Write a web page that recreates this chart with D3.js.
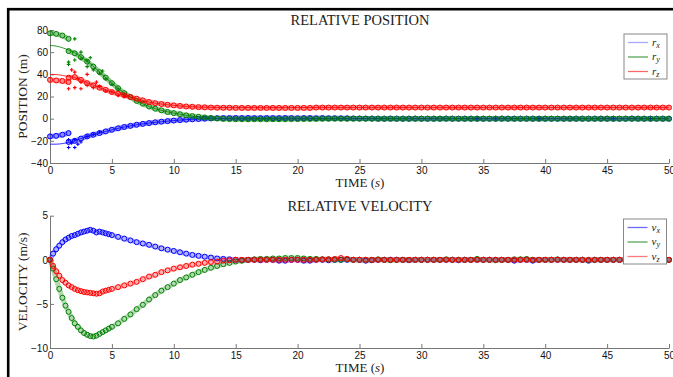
<!DOCTYPE html>
<html>
<head>
<meta charset="utf-8">
<script src="https://cdn.jsdelivr.net/npm/d3@7"></script>
<style>
  body { margin: 0; background: #fff; }
  svg { display: block; }
  .axis text { font-family: "Liberation Sans", Arial, sans-serif; font-size: 10px; fill: #111; }
  .axis path, .axis line { stroke: #777; }
  .lbl { font-family: "Liberation Serif", "DejaVu Serif", serif; fill: #222; }
</style>
</head>
<body>
<div id="chart"></div>
<script>
// ---- position data (m) ----
const posTime = [0,0.5,1,1.5,1.5,2,2.5,3,3.5,4,4.5,5,5.5,6,6.5,7,7.5,8,8.5,9,9.5,10,10.5,11,11.5,12,12.5,13,13.5,14,14.5,
  15,15.5,16,16.5,17,17.5,18,18.5,19,19.5,20,20.5,21,21.5,22,22.5,23,23.5,24,24.5,25,25.5,26,26.5,27,27.5,28,28.5,29,29.5,
  30,30.5,31,31.5,32,32.5,33,33.5,34,34.5,35,35.5,36,36.5,37,37.5,38,38.5,39,39.5,40,40.5,41,41.5,42,42.5,43,43.5,44,44.5,
  45,45.5,46,46.5,47,47.5,48,48.5,49,49.5,50];
const rx = [-16,-15.5,-14.5,-13,-21,
  -20,-18,-16,-14.5,-13,-11.5,-10,-8.7,-7.5,-6.5,-5.5,-4.7,-4,-3.3,-2.7,-2.2,-1.7,-1.3,-0.9,-0.6,-0.3,0,0.2,0.4,0.5,0.5,
  0.6,0.5,0.6,0.5,0.5,0.6,0.5,0.5,0.6,0.5,0.4,0.5,0.5,0.4,0.5,0.4,0.4,0.3,0.3,0.2,0.2,
  0.1,0.1,0,0,0.1,0,0,0,0.1,0,0,0,0,0.1,0,0,0,0,0,0,0,0,0.1,0,0,
  0,0,0,0,0,0,0,0,0,0,0,0,0,0,0,0,0,0,0.1,0,0,0,0,0,0];
const ry = [77,76.5,75,72,61,
  59,55.5,51.5,47,42,37,32,27.5,23,19.5,16,13.5,11,9,7.5,6,5,4,3,2.3,1.7,1.1,0.6,0.2,-0.2,-0.4,
  -0.5,-0.5,-0.6,-0.5,-0.5,-0.6,-0.5,-0.5,-0.5,-0.4,-0.4,-0.3,
  -0.2,-0.2,-0.1,-0.1,0,0,-0.1,0,0,0,0,0,0,0,0,0,0,0,0,
  0,0,0,0,0,0,0,0,0,0,0,0,0,0,0,0,0,0,0,0,0,0,0,0,0,
  0,0,0,0,0,0,0,0,0,0,0,0,0,0,0,0,0,0,0,0,0,0,0,0];
const rz = [35,34.5,34,33,37,
  37.5,35,32,30,28,26,24,22.5,21,19.5,18,16.5,15,14,13.2,12.5,12,11.5,11,10.7,10.4,10.2,10,9.9,9.8,9.8,
  9.7,9.7,9.7,9.7,9.7,9.7,9.7,9.7,9.7,9.7,9.7,9.7,9.7,
  10,10,10,10,10,10,10,10,10,10,10,10,10,10,10,10,10,10,10,10,
  10,10,10,10,10,10,10,10,10,10,10,10,10,10,10,10,10,10,10,10,
  10,10,10,10,10,10,10,10,10,10,10,10,10,10,10,10,10,10];

// reference (true) trajectories, thin lines
const truthTime = [0,0.5,1,1.5,2,2.5,3,4,5,6,7,8,10,12,15,20,30,40,50];
const rxTrue = [-23,-23,-22.5,-21.5,-20,-18,-16.2,-13,-10,-7.5,-5.5,-4,-1.7,-0.3,0.3,0.3,0,0,0];
const ryTrue = [66,65.5,64,62,59.5,56,52,42,32,23,16,11,5,1.7,-0.3,-0.3,0,0,0];
const rzTrue = [40,39.8,39,38,37,35,32.5,28,24,21,18,15,12,10.4,10,10,10,10,10];

// raw measurements (+)
const measXTime = [1.5,1.5,1.75,2,2,2.25,2.5,3,3.5,4,34.5,36,39.5,45.5,48.5];
const measX = [-26,-19,-22,-26,-19,-23,-21,-16,-14,-12,0,0,0,0,0];
const measYTime = [1.5,1.5,2,2,2.5,2.5,3,3,3.25,3.5,4,4.25,4.5,5,5.5,6];
const measY = [51,49,72,53,54,60,52,47,55,44,41,43,36,31,27,22];
const measZTime = [1.5,1.75,2,2,2.25,2.5,2.5,3,3,3.5,3.75,4,4.5,5,5.5,6];
const measZ = [27,44,42,28,36,33,27,40,30,28,33,29,25,24,21,20];

// ---- velocity data (m/s) ----
const velTime = [0,0.25,0.5,0.75,1,1.25,1.5,1.75,2,2.25,2.5,2.75,3,3.25,3.5,3.75,4,4.25,4.5,4.75,5,
  5.5,6,6.5,7,7.5,8,8.5,9,9.5,10,10.5,11,11.5,12,12.5,13,13.5,14,14.5,15,
  15.5,16,16.5,17,17.5,18,18.5,19,19.5,20,20.5,21,21.5,22,22.5,23,23.5,24,24.5,25,
  25.5,26,26.5,27,27.5,28,28.5,29,29.5,30,30.5,31,31.5,32,32.5,33,33.5,34,34.5,35,
  35.5,36,36.5,37,37.5,38,38.5,39,39.5,40,40.5,41,41.5,42,42.5,43,43.5,44,44.5,45,
  45.5,46,46.5,47,47.5,48,48.5,49,49.5,50];
const vx = [0,0.7,1.2,1.6,2.0,2.3,2.5,2.7,2.8,2.95,3.1,3.2,3.3,3.4,3.3,3.1,3.2,3.1,3.0,2.9,2.8,
  2.6,2.4,2.2,2.0,1.85,1.7,1.5,1.3,1.15,1.0,0.85,0.7,0.55,0.45,0.35,0.25,0.15,0.1,0.05,0,
  -0.05,0,0,-0.05,0,0,-0.1,-0.1,0,0,-0.1,-0.1,0,0,-0.05,0,0,0,0,0,
  -0.1,-0.05,0,0,0,0,0,-0.05,0,0,0,0,0,0,0,-0.05,0,0,0,0,
  0,0,0,0,-0.1,0,0,-0.1,0,0,0,0,0,0,0,0,-0.1,0,0,0,
  0,0,0,0,0,0,0,0,0,0];
const vy = [0,-1.0,-2.2,-3.3,-4.3,-5.2,-5.9,-6.6,-7.2,-7.6,-8.0,-8.3,-8.5,-8.65,-8.7,-8.6,-8.4,-8.2,-8.0,-7.8,-7.6,
  -7.2,-6.7,-6.2,-5.6,-5.1,-4.5,-4.0,-3.5,-3.1,-2.7,-2.3,-2.0,-1.7,-1.4,-1.15,-0.9,-0.7,-0.5,-0.35,-0.2,
  -0.1,0,0.05,0.1,0.1,0.15,0.15,0.2,0.2,0.2,0.15,0.1,0.1,0.05,0.05,0,0,0.05,0,0,
  0,0,0.05,0,-0.05,0,0,0,0,0,0,0,0,0.05,0,0,0,0,0.1,0,
  0,-0.05,0,0,0.05,0.05,0.1,0,0,0,0,0.05,0,0,0,0,-0.05,0,0,0,
  0,0,0,0,0,0,0,0,0,0];
const vz = [0,-0.7,-1.3,-1.8,-2.3,-2.6,-2.9,-3.1,-3.3,-3.45,-3.55,-3.65,-3.7,-3.75,-3.8,-3.85,-3.8,-3.6,-3.5,-3.4,-3.3,
  -3.1,-2.9,-2.7,-2.5,-2.2,-1.9,-1.7,-1.4,-1.2,-1.0,-0.85,-0.7,-0.55,-0.45,-0.35,-0.25,-0.2,-0.1,-0.05,0,
  0,0,0,0,0,0,0,0,0,0,0,0,0,0.05,0.05,0.1,0.2,0.1,0,0,
  0,0,0,0,0,0,0,0,0,0,0,0,0,0,0,0,0,0,0,0,
  0,0,0,0,0,0,0,0,0,0,0,0,0,0,0,0,0,0,0,0,
  0,0,0,0,0,0,0,0,0,0];

const xTicks = [0,5,10,15,20,25,30,35,40,45,50];
const posTicks = [-40,-20,0,20,40,60,80];
const velTicks = [-10,-5,0,5];

const BLUE = "#0000ff", GREEN = "#008000", RED = "#ff0000";

const W = 673, H = 377;
const svg = d3.select("#chart").append("svg").attr("width", W).attr("height", H);

// figure frame (runs off the right and bottom edges)
svg.append("rect")
  .attr("x", 8.2).attr("y", 9.2)
  .attr("width", 720).attr("height", 420)
  .attr("fill", "none").attr("stroke", "#000").attr("stroke-width", 2.6);

const x = d3.scaleLinear().domain([0, 50]).range([50, 669]);
const yPos = d3.scaleLinear().domain([-40, 80]).range([163, 30]);
const yVel = d3.scaleLinear().domain([-10, 5]).range([348, 215.7]);

function zipPts(ts, vs) {
  return ts.map((t, i) => ({ t: t, v: vs[i] })).filter(d => d.v !== undefined);
}

function drawAxes(y, ticks, top, bottom, title, ylabel) {
  svg.append("g")
    .attr("class", "axis")
    .attr("transform", `translate(0, ${bottom})`)
    .call(d3.axisBottom(x).tickValues(xTicks).tickSizeInner(-4).tickSizeOuter(0).tickPadding(4));
  svg.append("g")
    .attr("class", "axis")
    .attr("transform", `translate(${x(0)}, 0)`)
    .call(d3.axisLeft(y).tickValues(ticks).tickSizeInner(-4).tickSizeOuter(0).tickPadding(2));
  svg.append("text").attr("class", "lbl")
    .attr("x", 360).attr("y", top - 5)
    .attr("text-anchor", "middle").attr("font-size", 14.5)
    .text(title);
  svg.append("text").attr("class", "lbl")
    .attr("x", 360).attr("y", bottom + 24)
    .attr("text-anchor", "middle").attr("font-size", 13)
    .html('TIME (<tspan font-style="italic">s</tspan>)');
  svg.append("text").attr("class", "lbl")
    .attr("transform", `translate(27, ${(top + bottom) / 2}) rotate(-90)`)
    .attr("text-anchor", "middle").attr("font-size", 13.5)
    .text(ylabel);
}

// dense filter estimates: a soft band under the sample circles
function drawCircles(y, pts, color, band) {
  const line = d3.line()
    .x(d => x(d.t))
    .y(d => y(d.v));
  // split at repeated time stamps (jumps) so the band does not bridge them
  const segs = [[]];
  pts.forEach((d, i) => {
    if (i > 0 && d.t === pts[i - 1].t) segs.push([]);
    segs[segs.length - 1].push(d);
  });
  svg.append("g")
    .selectAll("path")
    .data(segs)
    .join("path")
    .attr("d", line)
    .attr("fill", "none")
    .attr("stroke", color)
    .attr("stroke-opacity", band)
    .attr("stroke-width", 5)
    .attr("stroke-linecap", "round");
  svg.append("g")
    .selectAll("circle")
    .data(pts)
    .join("circle")
    .attr("cx", d => x(d.t))
    .attr("cy", d => y(d.v))
    .attr("r", 2.5)
    .attr("fill", "none")
    .attr("stroke", color)
    .attr("stroke-width", 1);
}

function drawLine(y, pts, color) {
  const line = d3.line()
    .curve(d3.curveMonotoneX)
    .x(d => x(d.t))
    .y(d => y(d.v));
  svg.append("path")
    .datum(pts)
    .attr("d", line)
    .attr("fill", "none")
    .attr("stroke", color)
    .attr("stroke-width", 0.8);
}

function drawPlus(y, pts, color) {
  svg.append("g")
    .selectAll("path")
    .data(pts)
    .join("path")
    .attr("d", d => `M${x(d.t) - 1.8},${y(d.v)}h3.6M${x(d.t)},${y(d.v) - 1.8}v3.6`)
    .attr("stroke", color)
    .attr("stroke-width", 1.1);
}

function drawLegend(x0, y0, names, colors) {
  const g = svg.append("g").attr("transform", `translate(${x0}, ${y0})`);
  g.append("rect")
    .attr("width", 43).attr("height", 45)
    .attr("fill", "#fff").attr("stroke", "#888").attr("stroke-width", 1);
  names.forEach((n, i) => {
    const yy = 8.5 + i * 14.5;
    g.append("line")
      .attr("x1", 4).attr("x2", 24).attr("y1", yy).attr("y2", yy)
      .attr("stroke", colors[i]).attr("stroke-width", 1.3);
    g.append("text").attr("class", "lbl")
      .attr("x", 28).attr("y", yy + 3)
      .attr("font-size", 11).attr("fill", "#555")
      .html(`<tspan font-style="italic">${n[0]}</tspan><tspan font-style="italic" font-size="8" dy="2">${n[1]}</tspan>`);
  });
}

// ---- top: relative position ----
drawAxes(yPos, posTicks, 30, 163, "RELATIVE POSITION", "POSITION (m)");
drawLine(yPos, zipPts(truthTime, rxTrue), BLUE);
drawLine(yPos, zipPts(truthTime, ryTrue), GREEN);
drawLine(yPos, zipPts(truthTime, rzTrue), RED);
drawCircles(yPos, zipPts(posTime, rx), BLUE, 0.45);
drawPlus(yPos, zipPts(measXTime, measX), BLUE);
drawCircles(yPos, zipPts(posTime, ry), GREEN, 0.45);
drawPlus(yPos, zipPts(measYTime, measY), GREEN);
drawCircles(yPos, zipPts(posTime, rz), RED, 0.45);
drawPlus(yPos, zipPts(measZTime, measZ), RED);
drawLegend(624, 34, [["r", "x"], ["r", "y"], ["r", "z"]], ["#a8a8ff", "#5aa55a", "#ff6666"]);

// ---- bottom: relative velocity ----
drawAxes(yVel, velTicks, 215.7, 348, "RELATIVE VELOCITY", "VELOCITY (m/s)");
drawCircles(yVel, zipPts(velTime, vx), BLUE, 0.3);
drawCircles(yVel, zipPts(velTime, vy), GREEN, 0.3);
drawCircles(yVel, zipPts(velTime, vz), RED, 0.3);
drawLegend(623.5, 219, [["v", "x"], ["v", "y"], ["v", "z"]], ["#6a6aff", "#5aa55a", "#ff7a7a"]);
</script>
</body>
</html>
